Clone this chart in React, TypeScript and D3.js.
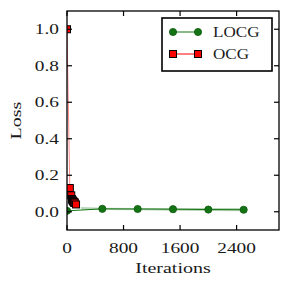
import React, { useRef, useEffect } from 'react';
import * as d3 from 'd3';

const locgIters = [0, 500, 1000, 1500, 2000, 2500];
const locgLoss = [0.005, 0.016, 0.015, 0.014, 0.012, 0.011];
const bandIters = [200, 500, 1000, 1500, 2000, 2500];
const bandLow = [0.012, 0.01, 0.008, 0.006, 0.004, 0.003];
const bandHigh = [0.026, 0.022, 0.021, 0.021, 0.02, 0.02];

const ocgIters = [0, 40, 60, 70, 75, 80, 85, 90, 95, 100, 105, 110, 128];
const ocgLoss = [1.0, 0.13, 0.09, 0.07, 0.065, 0.06, 0.06, 0.055, 0.055, 0.05, 0.05, 0.05, 0.04];

const xTicks = [0, 800, 1600, 2400];
const yTicks = [0, 0.2, 0.4, 0.6, 0.8, 1.0];
const legendLabels = ['LOCG', 'OCG'];

const GREEN = '#147314';
const FONT = '"Liberation Serif", "Times New Roman", serif';
const SX = 1.38;

const App: React.FC = () => {
  const ref = useRef<SVGSVGElement>(null);

  useEffect(() => {
    const svg = d3.select(ref.current);
    svg.selectAll('*').remove();

    const left = 67;
    const right = 279;
    const top = 11;
    const bottom = 230;

    const x = d3.scaleLinear().domain([0, 3000]).range([left, right]);
    const y = d3.scaleLinear().domain([-0.1, 1.1]).range([bottom, top]);

    // text helper: the reference font is noticeably wider than Times
    const label = (
      tx: number,
      ty: number,
      s: string,
      anchor: string,
      size: number,
      sx = SX,
      rot = 0
    ) =>
      svg
        .append('text')
        .attr('transform', `translate(${tx},${ty}) rotate(${rot}) scale(${sx},1)`)
        .attr('text-anchor', anchor)
        .attr('font-family', FONT)
        .attr('font-size', size)
        .attr('fill', '#1a1a1a')
        .text(s);

    const plot = svg.append('g');

    // std band for LOCG
    const area = d3
      .area<number>()
      .x((_, i) => x(bandIters[i]))
      .y0((_, i) => y(bandLow[i]))
      .y1((_, i) => y(bandHigh[i]));
    plot.append('path').attr('d', area(bandIters)).attr('fill', GREEN).attr('opacity', 0.3);

    const line = d3.line<[number, number]>().x((d) => x(d[0])).y((d) => y(d[1]));

    const ocg: [number, number][] = ocgIters.map((v, i) => [v, ocgLoss[i]]);
    plot
      .append('path')
      .attr('d', line(ocg))
      .attr('fill', 'none')
      .attr('stroke', '#ff0000')
      .attr('stroke-opacity', 0.45)
      .attr('stroke-width', 1);

    const locg: [number, number][] = locgIters.map((v, i) => [v, locgLoss[i]]);
    plot
      .append('path')
      .attr('d', line(locg))
      .attr('fill', 'none')
      .attr('stroke', GREEN)
      .attr('stroke-width', 1);

    plot
      .selectAll('rect.ocg')
      .data(ocg)
      .enter()
      .append('rect')
      .attr('class', 'ocg')
      .attr('x', (d) => x(d[0]) - 3.5)
      .attr('y', (d) => y(d[1]) - 3.5)
      .attr('width', 7)
      .attr('height', 7)
      .attr('fill', '#ff0000')
      .attr('stroke', '#000')
      .attr('stroke-width', 1);

    plot
      .selectAll('circle.locg')
      .data(locg)
      .enter()
      .append('circle')
      .attr('class', 'locg')
      .attr('cx', (d) => x(d[0]))
      .attr('cy', (d) => y(d[1]))
      .attr('r', 3.6)
      .attr('fill', GREEN)
      .attr('stroke', '#0d5a0d')
      .attr('stroke-width', 0.8);

    svg
      .append('clipPath')
      .attr('id', 'plotclip')
      .append('rect')
      .attr('x', left)
      .attr('y', top)
      .attr('width', right - left)
      .attr('height', bottom - top);
    plot.attr('clip-path', 'url(#plotclip)');

    // frame
    svg
      .append('rect')
      .attr('x', left)
      .attr('y', top)
      .attr('width', right - left)
      .attr('height', bottom - top)
      .attr('fill', 'none')
      .attr('stroke', '#000')
      .attr('stroke-width', 1.3);

    // inward ticks on all sides
    const tl = 5;
    const tg = svg.append('g').attr('stroke', '#000').attr('stroke-width', 1.2);
    xTicks.forEach((t) => {
      tg.append('line').attr('x1', x(t)).attr('x2', x(t)).attr('y1', bottom).attr('y2', bottom - tl);
      tg.append('line').attr('x1', x(t)).attr('x2', x(t)).attr('y1', top).attr('y2', top + tl);
    });
    yTicks.forEach((t) => {
      tg.append('line').attr('x1', left).attr('x2', left + tl).attr('y1', y(t)).attr('y2', y(t));
      tg.append('line').attr('x1', right).attr('x2', right - tl).attr('y1', y(t)).attr('y2', y(t));
    });

    xTicks.forEach((t) => label(x(t), 253, String(t), 'middle', 14));
    yTicks.forEach((t) => label(59, y(t) + 5, t.toFixed(1), 'end', 14));

    label((left + right) / 2, 273, 'Iterations', 'middle', 14.5);
    label(21, (top + bottom) / 2, 'Loss', 'middle', 14.5, SX, -90);

    // legend
    svg
      .append('rect')
      .attr('x', 162)
      .attr('y', 18)
      .attr('width', 110)
      .attr('height', 53)
      .attr('fill', '#fff')
      .attr('stroke', '#000')
      .attr('stroke-width', 1.6);

    legendLabels.forEach((name, i) => {
      const ly = 32 + i * 22;
      const color = i === 0 ? GREEN : '#ff0000';
      svg
        .append('line')
        .attr('x1', 173)
        .attr('x2', 198)
        .attr('y1', ly)
        .attr('y2', ly)
        .attr('stroke', color)
        .attr('stroke-width', 1);
      [173, 198].forEach((mx) => {
        if (i === 0) {
          svg.append('circle').attr('cx', mx).attr('cy', ly).attr('r', 3.6).attr('fill', GREEN).attr('stroke', '#0d5a0d').attr('stroke-width', 0.8);
        } else {
          svg.append('rect').attr('x', mx - 3.5).attr('y', ly - 3.5).attr('width', 7).attr('height', 7).attr('fill', '#ff0000').attr('stroke', '#000');
        }
      });
      label(213, ly + 5, name, 'start', 14, 1.22);
    });
  }, []);

  return (
    <div style={{ position: 'absolute', left: 0, top: 0 }}>
      <svg ref={ref} width={291} height={291} style={{ display: 'block', background: '#fff' }}></svg>
    </div>
  );
};

export default App;
